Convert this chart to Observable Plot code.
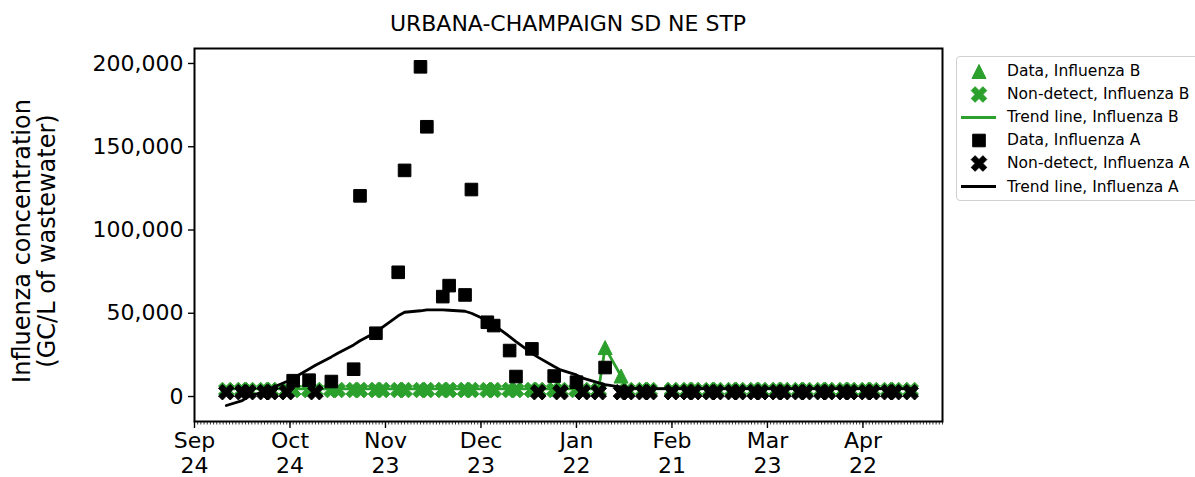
<!DOCTYPE html>
<html><head><meta charset="utf-8">
<script src="https://cdn.jsdelivr.net/npm/d3@7"></script>
<script src="https://cdn.jsdelivr.net/npm/@observablehq/plot@0.6"></script>
<style>
html,body{margin:0;padding:0;background:#fff;}
#wrap{position:relative;width:1195px;height:477px;overflow:hidden;font-family:"DejaVu Sans",sans-serif;color:#000;}
#title{position:absolute;left:194px;width:748px;top:0;height:40px;box-sizing:border-box;padding-top:12px;text-align:center;font-size:22px;line-height:24px;white-space:nowrap;}
#chart{position:absolute;left:0;top:40px;}
#legend{position:absolute;left:956px;top:56px;width:250px;height:145px;border:1px solid #d0d0d0;border-radius:4px;background:#fff;box-sizing:border-box;font-size:15.5px;}
.row{position:absolute;left:0;height:23px;display:flex;align-items:center;white-space:nowrap;}
.row svg{display:block;}
.row span{position:absolute;left:50px;}
</style></head>
<body><div id="wrap"><div id="title">URBANA-CHAMPAIGN SD NE STP</div><div id="chart"></div><div id="legend"></div></div>
<script>
// ---- data ----
const sampleDates = ["2022-10-04","2022-10-09","2022-10-11","2022-10-16","2022-10-18","2022-10-23","2022-10-25","2022-10-30",
  "2022-11-01","2022-11-06","2022-11-08","2022-11-13","2022-11-15","2022-11-20","2022-11-22","2022-11-27","2022-11-29",
  "2022-12-04","2022-12-06","2022-12-11","2022-12-13","2022-12-18","2022-12-20","2022-12-25","2022-12-27",
  "2023-01-01","2023-01-03","2023-01-08","2023-01-10","2023-01-15","2023-01-17","2023-01-22","2023-01-24","2023-01-29","2023-01-31",
  "2023-02-05","2023-02-07","2023-02-12","2023-02-14","2023-02-21","2023-02-26","2023-02-28",
  "2023-03-05","2023-03-07","2023-03-12","2023-03-14","2023-03-19","2023-03-21","2023-03-26","2023-03-28",
  "2023-04-02","2023-04-04","2023-04-09","2023-04-11","2023-04-16","2023-04-18","2023-04-23","2023-04-25","2023-04-30",
  "2023-05-02","2023-05-07"];
// Influenza A (GC/L): number = detected, "ND" = non-detect, "NA" = no result
const fluA = ["ND","ND","ND","ND","ND","ND",9500,9800,
  "ND",9000,"NA",16400,120500,38000,"NA",74600,135800,
  198000,162000,60000,66600,61000,124300,44600,42600,
  27600,12000,28600,"ND",12300,"ND",8600,"ND","ND",17400,
  "ND","ND","ND","ND","ND","ND","ND",
  "ND","ND","ND","ND","ND","ND","ND","ND",
  "ND","ND","ND","ND","ND","ND","ND","ND","ND",
  "ND","ND"];
const fluB = ["ND","ND","ND","ND","ND","ND","ND","ND",
  "ND","ND","ND","ND","ND","ND","ND","ND","ND",
  "ND","ND","ND","ND","ND","ND","ND","ND",
  "ND","ND","ND","ND","ND","ND","ND","ND","ND",29400,
  12300,"ND","ND","ND","ND","ND","ND",
  "ND","ND","ND","ND","ND","ND","ND","ND",
  "ND","ND","ND","ND","ND","ND","ND","ND","ND",
  "ND","ND"];
const trendA = [-5400,-2500,0,3000,5000,9000,11000,16500,
  18800,23800,26000,31000,33500,38600,41500,48500,50600,
  51500,52000,52000,51800,51200,50000,45600,43000,
  36000,33000,26000,23500,18000,16000,13000,11000,8200,7200,
  5600,5000,4800,4800,4800,4800,4800,
  4800,4800,4800,4800,4800,4800,4800,4800,
  4800,4800,4800,4800,4800,4800,4800,4800,4800,
  4800,4800];
const trendB = [4600,4600,4600,4600,4600,4600,4600,4600,
  4600,4600,4600,4600,4600,4600,4600,4600,4600,
  4600,4600,4600,4600,4600,4600,4600,4600,
  4600,4600,4600,4600,4600,4600,4600,4600,4600,29400,
  12300,4600,4600,4600,4600,4600,4600,
  4600,4600,4600,4600,4600,4600,4600,4600,
  4600,4600,4600,4600,4600,4600,4600,4600,4600,
  4600,4600];
const ndLevelA = 2600;   // plotted value of non-detects, Influenza A
const ndLevelB = 3900;   // plotted value of non-detects, Influenza B
const yTicks = [0, 50000, 100000, 150000, 200000];
const xTicks = ["2022-09-24","2022-10-24","2022-11-23","2022-12-23","2023-01-22","2023-02-21","2023-03-23","2023-04-22"];
const xDomain = ["2022-09-24","2023-05-17"];
const legendItems = [
  {label:"Data, Influenza B", kind:"tri", color:"#2ca02c"},
  {label:"Non-detect, Influenza B", kind:"x", color:"#2ca02c"},
  {label:"Trend line, Influenza B", kind:"line", color:"#2ca02c"},
  {label:"Data, Influenza A", kind:"sq", color:"#000"},
  {label:"Non-detect, Influenza A", kind:"x", color:"#000"},
  {label:"Trend line, Influenza A", kind:"line", color:"#000"}
];
const GREEN = "#2ca02c";

// ---- symbols (matplotlib-like) ----
const rOf = s => Math.sqrt(s / Math.PI);
const squareSym = {draw(c, s){const r=rOf(s); c.moveTo(-r,-r); c.lineTo(r,-r); c.lineTo(r,r); c.lineTo(-r,r); c.closePath();}};
const triSym = {draw(c, s){const r=rOf(s); c.moveTo(0,-r); c.lineTo(r,r); c.lineTo(-r,r); c.closePath();}};
const xPts = [[-1,-3],[1,-3],[1,-1],[3,-1],[3,1],[1,1],[1,3],[-1,3],[-1,1],[-3,1],[-3,-1],[-1,-1]];
const xSym = {draw(c, s){const r=rOf(s); const u=r*Math.SQRT2/4, k=Math.SQRT1_2;
  xPts.forEach(([x,y],i)=>{const X=(x-y)*k*u, Y=(x+y)*k*u; i?c.lineTo(X,Y):c.moveTo(X,Y);}); c.closePath();}};

const rows = sampleDates.map((d,i)=>({date:new Date(d), a:fluA[i], b:fluB[i], ta:trendA[i], tb:trendB[i]}));
const aDet = rows.filter(r=>typeof r.a === "number");
const aNd = rows.filter(r=>r.a === "ND");
const bDet = rows.filter(r=>typeof r.b === "number");
const bNd = rows.filter(r=>r.b === "ND");
const x0 = new Date(xDomain[0]), x1 = new Date(xDomain[1]);
const minorTicks = d3.utcDay.range(x0, new Date(+x1 + 1));

const chart = Plot.plot({
  width: 1195, height: 437,
  marginLeft: 194, marginRight: 253, marginTop: 8, marginBottom: 56,
  style: {fontFamily: "DejaVu Sans", fontSize: "22px", color: "black", background: "white", overflow: "visible"},
  x: {type: "utc", domain: [x0, x1]},
  y: {domain: [-15000, 209000]},
  marks: [
    Plot.axisY({ticks: yTicks, tickSize: 6, tickPadding: 5, tickFormat: d3.format(","), label: null, strokeWidth: 1.4, fontSize: 22}),
    Plot.axisX({ticks: minorTicks, tickSize: 3.5, tickFormat: () => "", label: null, strokeWidth: 0.8}),
    Plot.axisX({ticks: xTicks.map(d=>new Date(d)), tickSize: 7, tickPadding: 1, tickFormat: d3.utcFormat("%b\n%d"), label: null, strokeWidth: 1.4, fontSize: 22, lineHeight: 1.16}),
    Plot.dot(bDet, {x:"date", y:"b", symbol: triSym, r: 7, fill: GREEN, stroke: GREEN, strokeWidth: 1}),
    Plot.dot(bNd, {x:"date", y:() => ndLevelB, symbol: xSym, r: 7.8, fill: GREEN, stroke: GREEN, strokeWidth: 1}),
    Plot.line(rows, {x:"date", y:"tb", stroke: GREEN, strokeWidth: 2.8}),
    Plot.dot(aDet, {x:"date", y:"a", symbol: squareSym, r: 6.3, fill: "black", stroke: "black", strokeWidth: 1}),
    Plot.dot(aNd, {x:"date", y:() => ndLevelA, symbol: xSym, r: 7.8, fill: "black", stroke: "black", strokeWidth: 1}),
    Plot.line(rows, {x:"date", y:"ta", stroke: "black", strokeWidth: 2.8}),
    Plot.frame({stroke: "black", strokeWidth: 2}),
    Plot.text(["Influenza concentration\n(GC/L of wastewater)"], {frameAnchor: "left", text: d=>d, rotate: -90, textAnchor: "middle", lineAnchor: "middle", dx: -160, dy: 6, fontSize: 24, lineHeight: 1.06})
  ]
});
document.getElementById("chart").appendChild(chart);

// ---- legend ----
const leg = document.getElementById("legend");
legendItems.forEach((it, i) => {
  const row = document.createElement("div");
  row.className = "row";
  row.style.top = (2.5 + i * 23.1) + "px";
  const s = d3.create("svg").attr("width", 44).attr("height", 23);
  const g = s.append("g").attr("transform", "translate(22,11.5)");
  const p = d3.path();
  if (it.kind === "line") {
    s.append("line").attr("x1", 4).attr("x2", 39).attr("y1", 11.5).attr("y2", 11.5).attr("stroke", it.color).attr("stroke-width", 2.8);
  } else {
    const sym = it.kind === "tri" ? triSym : it.kind === "sq" ? squareSym : xSym;
    const r = it.kind === "tri" ? 7 : it.kind === "sq" ? 6.3 : 7.8;
    sym.draw(p, r * r * Math.PI);
    g.append("path").attr("d", p.toString()).attr("fill", it.color).attr("stroke", it.color).attr("stroke-width", 1);
  }
  row.appendChild(s.node());
  const t = document.createElement("span");
  t.textContent = it.label;
  row.appendChild(t);
  leg.appendChild(row);
});
</script>
</body></html>
